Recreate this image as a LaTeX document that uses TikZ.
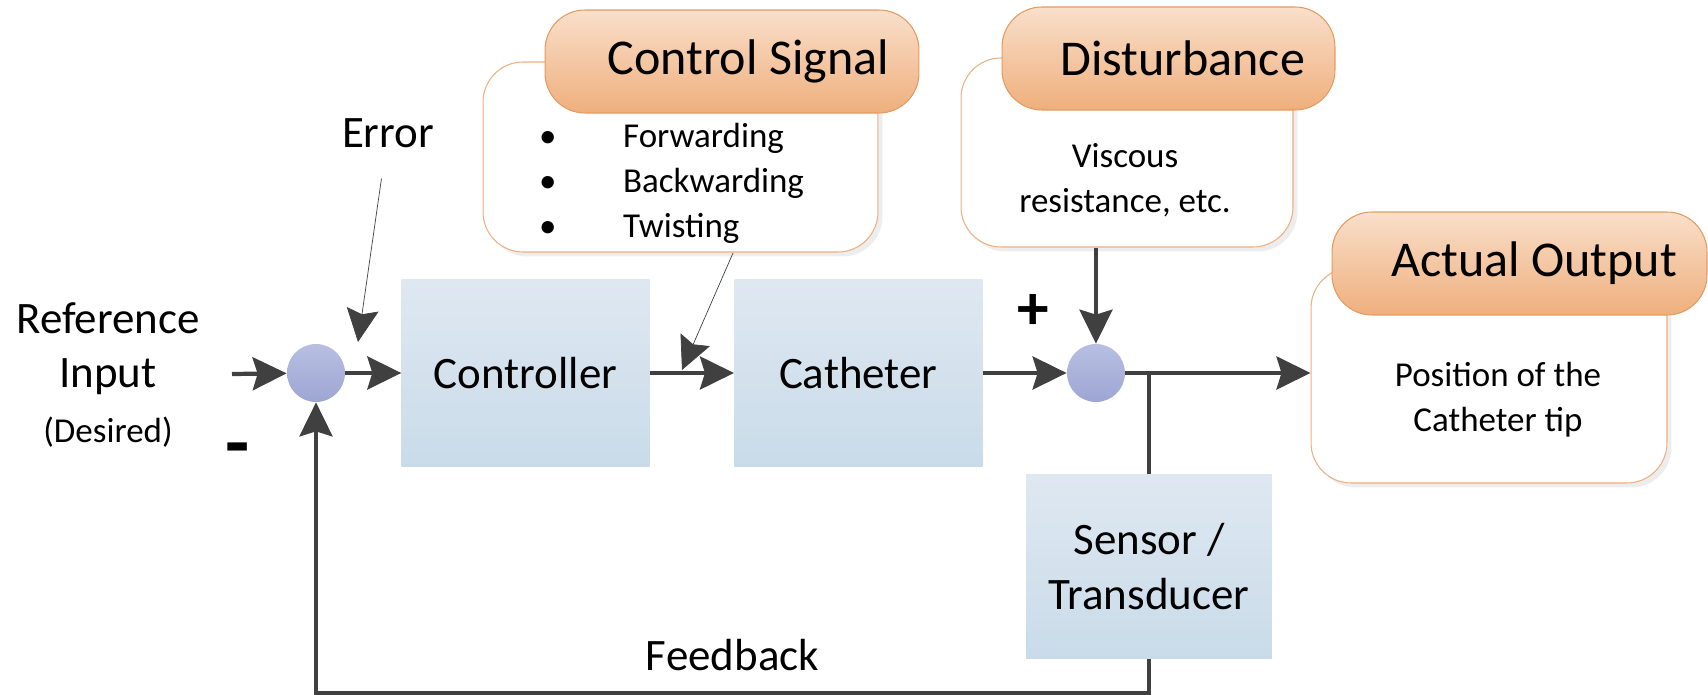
\documentclass[tikz,border=0pt]{standalone}
\usepackage{fontspec}
\setmainfont{Carlito}
\usetikzlibrary{positioning,arrows.meta,shadows}

\definecolor{arrgray}{HTML}{404040}
\definecolor{blkTop}{HTML}{DFE8F1}
\definecolor{blkBot}{HTML}{C9DBE9}
\definecolor{sumTop}{HTML}{B8BFE2}
\definecolor{sumBot}{HTML}{9DA6D3}
\definecolor{hdTop}{HTML}{F9DFCA}
\definecolor{hdBot}{HTML}{EFAF7D}
\definecolor{hdLine}{HTML}{E49B5F}
\definecolor{bdLine}{HTML}{EDB080}

\newcommand{\blkfont}{\fontsize{25.6}{31}\selectfont}
\newcommand{\hdfont}{\fontsize{28.5}{34}\selectfont}
\newcommand{\txtfont}{\fontsize{19.9}{25.6}\selectfont}

\begin{document}
\begin{tikzpicture}[
  x=0.02cm, y=-0.02cm,
  blk/.style={minimum width=4.96cm, minimum height=3.74cm, inner sep=0pt,
              top color=blkTop, bottom color=blkBot, font=\blkfont, align=center},
  sum/.style={circle, minimum size=1.16cm, inner sep=0pt, top color=sumTop, bottom color=sumBot},
  body/.style={draw=bdLine, line width=0.6pt, rounded corners=0.8cm, fill=white,
               drop shadow={shadow xshift=0.09cm, shadow yshift=-0.09cm, fill=black!14}},
  head/.style={draw=hdLine, line width=0.6pt, rounded corners=0.8cm, top color=hdTop,
               bottom color=hdBot, minimum height=2.06cm, font=\hdfont, align=flush right,
               inner xsep=0.6cm},
  lab/.style={font=\blkfont, align=center, text=black},
  txt/.style={font=\txtfont, align=center},
  arr/.style={-{Stealth[length=0.68cm, width=0.66cm, inset=0.1cm]}, line width=2.4pt, color=arrgray},
  ptr/.style={-{Stealth[length=0.66cm, width=0.64cm, inset=0.1cm]}, line width=0.4pt, color=arrgray}
]
\useasboundingbox (0,0) rectangle (1708,695);
% Top: callouts
\node[body, minimum width=7.9cm, minimum height=3.8cm] (csbox) at (680.5,157) {};
\node[head, text width=6.28cm] (cshead) at (732,61.5) {Control Signal};
\node[txt, anchor=west, align=left] (cslist) at (533,183)
  {\makebox[1.68cm][l]{\textbullet}Forwarding\\ \makebox[1.68cm][l]{\textbullet}Backwarding\\
   \makebox[1.68cm][l]{\textbullet}Twisting};
\node[body, minimum width=6.64cm, minimum height=3.78cm] (dbox) at (1127,152.5) {};
\node[head, text width=5.46cm] (dhead) at (1168.5,58.5) {Disturbance};
\node[txt] (dtxt) at (1125,180) {Viscous\\ resistance, etc.};
\node[body, minimum width=7.12cm, minimum height=4.3cm] (obox) at (1489,375.5) {};
\node[head, text width=6.3cm] (ohead) at (1519.5,263.5) {Actual Output};
\node[txt] (otxt) at (1498,400) {Position of the\\ Catheter tip};
% Forward path
\node[sum] (s1) at (316,373) {};
\node[blk, right=1.12cm of s1] (ctrl) {Controller};
\node[blk, right=1.68cm of ctrl] (cath) {Catheter};
\node[sum, right=1.68cm of cath] (s2) {};
\node[blk, minimum width=4.92cm, minimum height=3.7cm] (sens) at (1149,566.5) {Sensor /\\ Transducer};
% Labels and signs
\node[lab] (ref) at (108,375) {Reference\\ Input\\ {\txtfont (Desired)}};
\node[lab] (err) at (388,133) {Error};
\node[font=\fontsize{45}{45}\selectfont\bfseries] (minus) at (238,456) {-};
\node[font=\fontsize{36}{36}\selectfont\bfseries] (plus) at (1033,312) {+};
\coordinate (inp) at (232,374);
\coordinate (errtip) at (358,342);
\coordinate (csfoot) at (733,253);
\coordinate (cstip) at (682,370);
% Connectors
\draw[arr] (inp) -- (s1);
\draw[arr] (s1) -- (ctrl);
\draw[arr] (ctrl) -- (cath);
\draw[arr] (cath) -- (s2);
\draw[arr] (dbox.south -| s2) -- (s2);
\draw[arr] (s2) -- (s2 -| obox.west);
\draw[line width=2.4pt, color=arrgray] (s2 -| sens) -- (sens);
\draw[arr] (sens.south) -- ++(0,34) -| node[lab, pos=0.25, above=0.3cm] {Feedback} (s1);
\draw[ptr, shorten <=0.5cm] (err) -- (errtip);
\draw[ptr] (csfoot) -- (cstip);
\end{tikzpicture}
\end{document}
